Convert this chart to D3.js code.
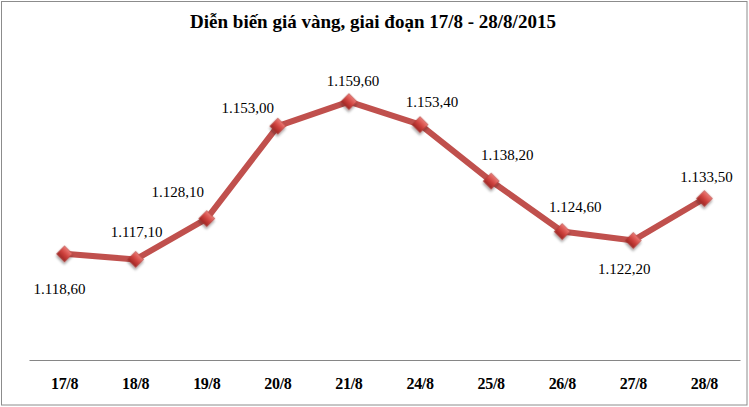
<!DOCTYPE html>
<html>
<head>
<meta charset="utf-8">
<script src="https://cdn.jsdelivr.net/npm/d3@7"></script>
<style>
  body { margin: 0; background: #fff; }
</style>
</head>
<body>
<div id="chart"></div>
<script>
// Gold price by day as shown on the chart
const dates = ["17/8", "18/8", "19/8", "20/8", "21/8", "24/8", "25/8", "26/8", "27/8", "28/8"];
const prices = [1118.6, 1117.1, 1128.1, 1153.0, 1159.6, 1153.4, 1138.2, 1124.6, 1122.2, 1133.5];
const title = "Diễn biến giá vàng, giai đoạn 17/8 - 28/8/2015";

// Label placement relative to each marker (dx, dy of baseline)
const labelOffsets = [[-5, 40], [1, -22], [-29, -22], [-30, -13], [4, -16],
                      [12, -18], [16, -21], [13, -20], [-9, 34], [2, -17]];

const width = 749, height = 407;
const margin = { top: 63, right: 9, bottom: 47, left: 29 };
const serif = "Liberation Serif";

const svg = d3.select("#chart").append("svg")
    .attr("width", width)
    .attr("height", height)
    .attr("font-family", serif)
    .style("display", "block");

// Outer frame
svg.append("rect")
    .attr("x", 1.5).attr("y", 1.5)
    .attr("width", width - 3.5).attr("height", height - 3.5)
    .attr("fill", "#fff")
    .attr("stroke", "#8c8c8c");

const defs = svg.append("defs");
const grad = defs.append("linearGradient")
    .attr("id", "markerGrad")
    .attr("x1", "0").attr("y1", "0").attr("x2", "0").attr("y2", "1");
grad.append("stop").attr("offset", "0%").attr("stop-color", "#ec7a76");
grad.append("stop").attr("offset", "50%").attr("stop-color", "#d0433f");
grad.append("stop").attr("offset", "100%").attr("stop-color", "#9e2623");

const shadow = defs.append("filter").attr("id", "shadow")
    .attr("x", "-50%").attr("y", "-50%").attr("width", "200%").attr("height", "200%");
shadow.append("feDropShadow")
    .attr("dx", 1.5).attr("dy", 2).attr("stdDeviation", 1.2)
    .attr("flood-color", "#000").attr("flood-opacity", 0.35);

// Scales
const x = d3.scaleBand()
    .domain(dates)
    .range([margin.left, width - margin.right]);

const y = d3.scaleLinear()
    .domain([1090, 1170])
    .range([height - margin.bottom, margin.top]);

// X axis: line only, bold labels
const xAxis = svg.append("g")
    .attr("transform", `translate(0,${height - margin.bottom})`)
    .call(d3.axisBottom(x).tickSize(0).tickPadding(18))
    .attr("font-family", serif)
    .attr("font-size", 16)
    .attr("font-weight", "bold");
xAxis.select(".domain").attr("stroke", "#868686").attr("stroke-width", 1.2);
xAxis.selectAll("text")
    .attr("letter-spacing", "-0.3")
    .attr("fill", "#000");

const pts = dates.map((d, i) => ({ date: d, value: prices[i] }));

const line = d3.line()
    .x(d => x(d.date) + x.bandwidth() / 2)
    .y(d => y(d.value));

svg.append("path")
    .datum(pts)
    .attr("d", line)
    .attr("fill", "none")
    .attr("stroke", "#c0504d")
    .attr("stroke-width", 6)
    .attr("stroke-linejoin", "round");

// Diamond markers
svg.selectAll(".marker")
    .data(pts)
    .join("path")
    .attr("class", "marker")
    .attr("d", d3.symbol(d3.symbolSquare, 130)())
    .attr("transform", d => `translate(${x(d.date) + x.bandwidth() / 2},${y(d.value)}) rotate(45)`)
    .attr("fill", "url(#markerGrad)")
    .attr("stroke", "#a83a37")
    .attr("stroke-width", 0.5)
    .attr("filter", "url(#shadow)");

// Data labels, Vietnamese number format
const vn = d3.formatLocale({ decimal: ",", thousands: ".", grouping: [3], currency: ["", ""] });
const fmt = vn.format(",.2f");

svg.selectAll(".label")
    .data(pts)
    .join("text")
    .attr("class", "label")
    .attr("x", (d, i) => x(d.date) + x.bandwidth() / 2 + labelOffsets[i][0])
    .attr("y", (d, i) => y(d.value) + labelOffsets[i][1])
    .attr("text-anchor", "middle")
    .attr("font-size", 15)
    .attr("fill", "#000")
    .text(d => fmt(d.value));

// Title
svg.append("text")
    .attr("x", 373)
    .attr("y", 28)
    .attr("text-anchor", "middle")
    .attr("font-size", 19)
    .attr("font-weight", "bold")
    .attr("fill", "#000")
    .text(title);
</script>
</body>
</html>
